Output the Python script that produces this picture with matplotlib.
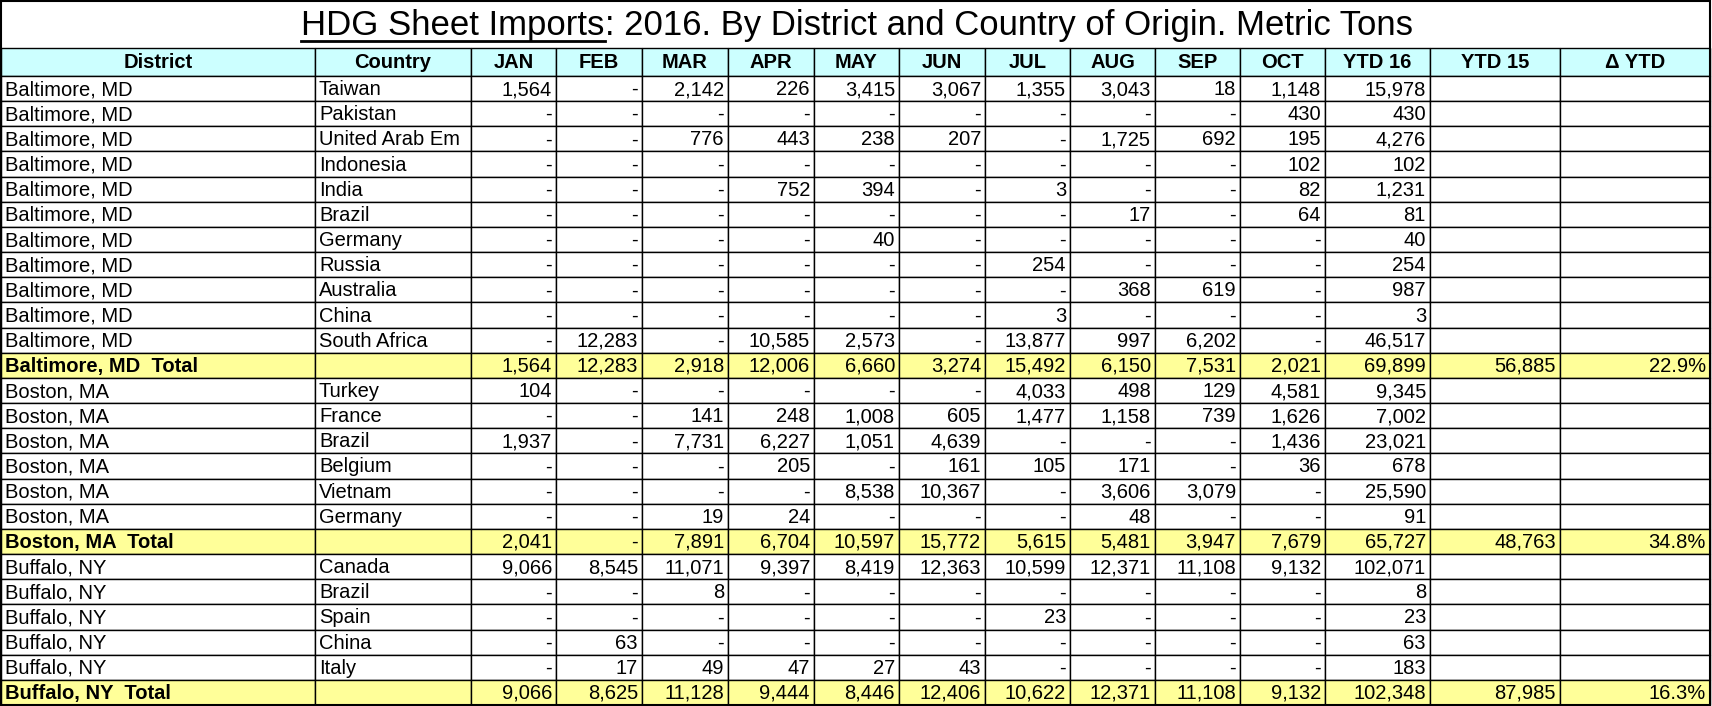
import matplotlib.pyplot as plt
from matplotlib.patches import Rectangle

plt.rcParams['font.family'] = ['Liberation Sans', 'DejaVu Sans']

title_a = "HDG Sheet Imports"
title_b = ": 2016. By District and Country of Origin. Metric Tons"
headers = ["District", "Country", "JAN", "FEB", "MAR", "APR", "MAY", "JUN",
           "JUL", "AUG", "SEP", "OCT", "YTD 16", "YTD 15", "Δ YTD"]

districts = ["Baltimore, MD"] * 11 + ["Baltimore, MD  Total"] + ["Boston, MA"] * 6 + \
            ["Boston, MA  Total"] + ["Buffalo, NY"] * 5 + ["Buffalo, NY  Total"]
countries = ["Taiwan", "Pakistan", "United Arab Em", "Indonesia", "India", "Brazil", "Germany",
             "Russia", "Australia", "China", "South Africa", "",
             "Turkey", "France", "Brazil", "Belgium", "Vietnam", "Germany", "",
             "Canada", "Brazil", "Spain", "China", "Italy", ""]
N = None
monthly = [
    [1564, N, 2142, 226, 3415, 3067, 1355, 3043, 18, 1148],
    [N, N, N, N, N, N, N, N, N, 430],
    [N, N, 776, 443, 238, 207, N, 1725, 692, 195],
    [N, N, N, N, N, N, N, N, N, 102],
    [N, N, N, 752, 394, N, 3, N, N, 82],
    [N, N, N, N, N, N, N, 17, N, 64],
    [N, N, N, N, 40, N, N, N, N, N],
    [N, N, N, N, N, N, 254, N, N, N],
    [N, N, N, N, N, N, N, 368, 619, N],
    [N, N, N, N, N, N, 3, N, N, N],
    [N, 12283, N, 10585, 2573, N, 13877, 997, 6202, N],
    [1564, 12283, 2918, 12006, 6660, 3274, 15492, 6150, 7531, 2021],
    [104, N, N, N, N, N, 4033, 498, 129, 4581],
    [N, N, 141, 248, 1008, 605, 1477, 1158, 739, 1626],
    [1937, N, 7731, 6227, 1051, 4639, N, N, N, 1436],
    [N, N, N, 205, N, 161, 105, 171, N, 36],
    [N, N, N, N, 8538, 10367, N, 3606, 3079, N],
    [N, N, 19, 24, N, N, N, 48, N, N],
    [2041, N, 7891, 6704, 10597, 15772, 5615, 5481, 3947, 7679],
    [9066, 8545, 11071, 9397, 8419, 12363, 10599, 12371, 11108, 9132],
    [N, N, 8, N, N, N, N, N, N, N],
    [N, N, N, N, N, N, 23, N, N, N],
    [N, 63, N, N, N, N, N, N, N, N],
    [N, 17, 49, 47, 27, 43, N, N, N, N],
    [9066, 8625, 11128, 9444, 8446, 12406, 10622, 12371, 11108, 9132],
]
ytd16 = [15978, 430, 4276, 102, 1231, 81, 40, 254, 987, 3, 46517, 69899,
         9345, 7002, 23021, 678, 25590, 91, 65727,
         102071, 8, 23, 63, 183, 102348]
ytd15 = {11: "56,885", 18: "48,763", 24: "87,985"}
delta = {11: "22.9%", 18: "34.8%", 24: "16.3%"}

col_x = [1, 315, 471, 556, 642, 728, 814, 899, 985, 1070, 1155, 1240, 1325, 1430, 1560, 1710]
title_h, head_h = 48, 76
row_h = (705 - head_h) / len(districts)

fig = plt.figure(figsize=(17.12, 7.06), dpi=100)
ax = fig.add_axes([0, 0, 1, 1])
ax.set_xlim(0, 1712)
ax.set_ylim(706, 0)
ax.axis('off')

def fmt(v):
    return "-" if v is None else f"{v:,}"

fs = 14.5
# header
for i, h in enumerate(headers):
    ax.add_patch(Rectangle((col_x[i], title_h), col_x[i + 1] - col_x[i], head_h - title_h,
                           facecolor="#ccffff", edgecolor="black", lw=1))
    ax.text((col_x[i] + col_x[i + 1]) / 2, (title_h + head_h) / 2 + 1, h, ha='center',
            va='center', fontsize=fs, fontweight='bold')

for r, d in enumerate(districts):
    y0 = head_h + r * row_h
    total = d.endswith("Total")
    bg = "#ffff99" if total else "white"
    wt = 'bold' if total else 'normal'
    cells = [d, countries[r]] + [fmt(v) for v in monthly[r]] + [fmt(ytd16[r]),
             ytd15.get(r, ""), delta.get(r, "")]
    for i, c in enumerate(cells):
        ax.add_patch(Rectangle((col_x[i], y0), col_x[i + 1] - col_x[i], row_h,
                               facecolor=bg, edgecolor="black", lw=1))
        yc = y0 + row_h / 2 + 1
        if i < 2:
            ax.text(col_x[i] + 4, yc, c, ha='left', va='center', fontsize=fs, fontweight=wt)
        else:
            ax.text(col_x[i + 1] - 4, yc, c, ha='right', va='center', fontsize=fs)

ax.add_patch(Rectangle((1, 1), 1709, 704, fill=False, edgecolor="black", lw=1.5))

# title with underlined first part
fig.canvas.draw()
r = fig.canvas.get_renderer()
ta = ax.text(0, 25, title_a, fontsize=25, va='center', ha='left')
tb = ax.text(0, 25, title_b, fontsize=25, va='center', ha='left')
wa = ta.get_window_extent(r).width
wb = tb.get_window_extent(r).width
x0 = 857 - (wa + wb) / 2
ta.set_x(x0)
tb.set_x(x0 + wa)
ax.plot([x0, x0 + wa], [41, 41], color="black", lw=2)

fig.savefig("out.png", dpi=100)
